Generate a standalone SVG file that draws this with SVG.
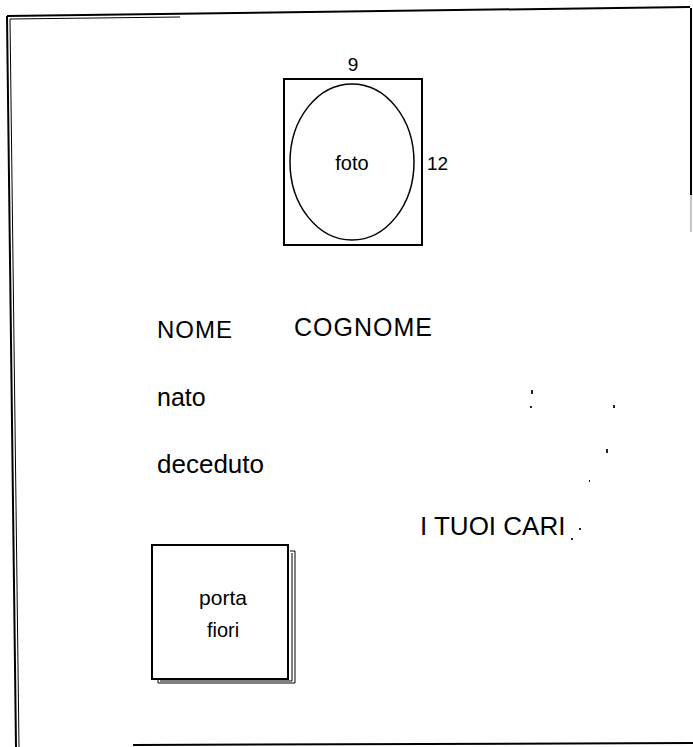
<svg xmlns="http://www.w3.org/2000/svg" width="693" height="747" viewBox="0 0 693 747">
<style>
.ln{fill:none;stroke:#000;stroke-width:2}
.t{font-family:"Liberation Sans",Arial,sans-serif;fill:#000}
.sp{fill:#222}
</style>
<rect width="693" height="747" fill="#fff"/>
<g id="frame">
<path class="ln" d="M7,16 L690,7"/>
<path class="ln" d="M16,747 L7,16"/>
<path fill="none" stroke="#000" stroke-width="1" d="M19,747 L10,19 L180,17"/>
<path class="ln" d="M691,8 L691,195"/>
<path fill="none" stroke="#888" stroke-width="1" d="M691,195 L691,232"/>
<path class="ln" d="M133,745 L693,743"/>
</g>
<g id="foto">
<rect class="ln" x="284" y="79" width="138" height="166" stroke-width="1.8"/>
<ellipse cx="352" cy="162" rx="62" ry="78" fill="none" stroke="#000" stroke-width="1.5"/>
<text class="t" x="352" y="170" font-size="20" text-anchor="middle">foto</text>
<text class="t" x="353" y="71" font-size="19" text-anchor="middle">9</text>
<text class="t" x="427" y="170" font-size="19">12</text>
</g>
<g id="labels">
<text class="t" x="157" y="338" font-size="24" letter-spacing="1">NOME</text>
<text class="t" x="294" y="336" font-size="25" letter-spacing="1">COGNOME</text>
<text class="t" x="157" y="406" font-size="25">nato</text>
<text class="t" x="157" y="473" font-size="26">deceduto</text>
<text class="t" x="420" y="535" font-size="26">I TUOI CARI</text>
</g>
<g id="specks">
<rect class="sp" x="531" y="390" width="2" height="4"/>
<rect class="sp" x="530" y="406" width="2" height="2"/>
<rect class="sp" x="613" y="405" width="2" height="3"/>
<rect class="sp" x="606" y="449" width="2" height="4"/>
<rect class="sp" x="589" y="480" width="1" height="2"/>
<rect class="sp" x="579" y="528" width="2" height="2"/>
<rect class="sp" x="571" y="538" width="2" height="2"/>
</g>
<g id="porta-fiori">
<path fill="none" stroke="#000" stroke-width="1" d="M290,551 L295,551 L295,683 L158,683 L158,680"/>
<path fill="none" stroke="#000" stroke-width="1" d="M292,553 L292,681 L160,681"/>
<rect class="ln" x="152" y="545" width="136" height="134"/>
<text class="t" x="223" y="605" font-size="21" text-anchor="middle">porta</text>
<text class="t" x="223" y="637" font-size="20" text-anchor="middle">fiori</text>
</g>
</svg>
